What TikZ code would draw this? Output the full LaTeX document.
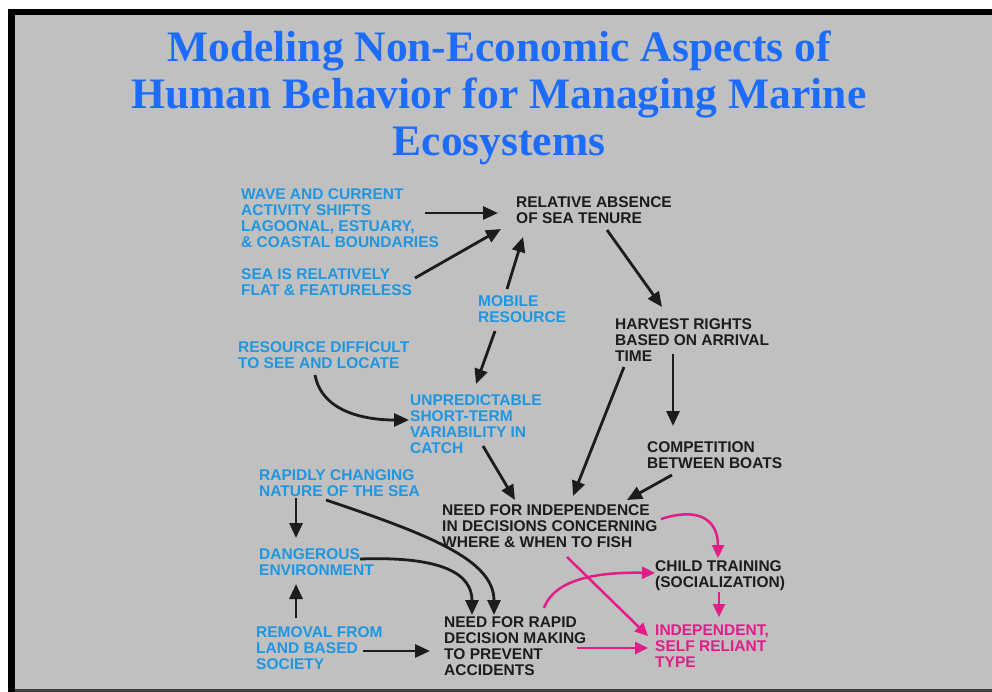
\documentclass[tikz,border=0pt]{standalone}
\usepackage{fontspec}
\setmainfont{Liberation Sans}
\newfontfamily\titlefont{Liberation Serif}
\usetikzlibrary{arrows.meta}
\definecolor{bg}{RGB}{192,192,192}
\definecolor{ttl}{RGB}{30,108,255}
\definecolor{lblue}{RGB}{30,150,225}
\definecolor{dtext}{RGB}{28,28,28}
\definecolor{pk}{RGB}{228,28,135}
\begin{document}
\begin{tikzpicture}[x=1pt,y=-1pt,
 lbl/.style={anchor=north west,inner sep=0pt,align=left,font=\fontsize{15.5}{16}\selectfont\bfseries},
 bl/.style={lbl,text=lblue}, bk/.style={lbl,text=dtext}, pn/.style={lbl,text=pk},
 arr/.style={draw=dtext,line width=2.8pt,-{Triangle[length=15pt,width=13pt]}},
 parr/.style={draw=pk,line width=2.5pt,-{Triangle[length=13pt,width=12pt]}}]
\useasboundingbox (0,0) rectangle (992,692);
\fill[white] (0,0) rectangle (1000,700);
\fill[black] (8,9) rectangle (1000,700);
\fill[bg] (15,15) rectangle (1000,689);
\fill[black!75] (15,689) rectangle (1000,700);

\node[font=\titlefont\bfseries\fontsize{43.5}{47}\selectfont, text=ttl, align=center, anchor=north, inner sep=0pt] (title) at (499,31)
 {Modeling Non-Economic Aspects of\\Human Behavior for Managing Marine\\Ecosystems};

\node[bl] (wave) at (241,188) {WAVE AND CURRENT\\ACTIVITY SHIFTS\\LAGOONAL, ESTUARY,\\\& COASTAL BOUNDARIES};
\node[bl] (flat) at (241,268) {SEA IS RELATIVELY\\FLAT \& FEATURELESS};
\node[bk] (tenure) at (516,196) {RELATIVE ABSENCE\\OF SEA TENURE};
\node[bl] (mobile) at (478,295) {MOBILE\\RESOURCE};
\node[bl] (difficult) at (238,341) {RESOURCE DIFFICULT\\TO SEE AND LOCATE};
\node[bk] (harvest) at (615,318) {HARVEST RIGHTS\\BASED ON ARRIVAL\\TIME};
\node[bl] (unpred) at (410,394) {UNPREDICTABLE\\SHORT-TERM\\VARIABILITY IN\\CATCH};
\node[bk] (compet) at (647,441) {COMPETITION\\BETWEEN BOATS};
\node[bl] (rapidly) at (259,469) {RAPIDLY CHANGING\\NATURE OF THE SEA};
\node[bk] (indep) at (442,504) {NEED FOR INDEPENDENCE\\IN DECISIONS CONCERNING\\WHERE \& WHEN TO FISH};
\node[bl] (danger) at (259,548) {DANGEROUS\\ENVIRONMENT};
\node[bk] (child) at (655,560) {CHILD TRAINING\\(SOCIALIZATION)};
\node[bl] (removal) at (256,626) {REMOVAL FROM\\LAND BASED\\SOCIETY};
\node[bk] (rapid) at (444,616) {NEED FOR RAPID\\DECISION MAKING\\TO PREVENT\\ACCIDENTS};
\node[pn] (selfrel) at (655,625) {INDEPENDENT,\\SELF RELIANT\\TYPE};

% connector end points
\coordinate (waveO) at (425,213);   \coordinate (tenA) at (498,213);
\coordinate (flatO) at (415,278);   \coordinate (tenB) at (501,229);
\coordinate (mobU) at (507,289);    \coordinate (tenC) at (523,237);
\coordinate (tenO) at (607,230);    \coordinate (harI) at (662,307);
\coordinate (mobD) at (495,331);    \coordinate (unpI) at (476,384);
\coordinate (difO) at (315,375);    \coordinate (unpL) at (409,420);
\coordinate (unpO) at (483,446);    \coordinate (indA) at (515,500);
\coordinate (harO) at (624,367);    \coordinate (indB) at (573,496);
\coordinate (harD) at (673,354);    \coordinate (comI) at (673,426);
\coordinate (comO) at (672,475);    \coordinate (indC) at (627,500);
\coordinate (rapD) at (296,498);    \coordinate (danT) at (296,538);
\coordinate (remU) at (296,618);    \coordinate (danB) at (296,584);
\coordinate (remO) at (363,651);    \coordinate (rpdL) at (430,651);
\coordinate (danO) at (360,559);    \coordinate (rpdA) at (472,615);
\coordinate (rapO) at (326,500);    \coordinate (rpdB) at (494,615);
\coordinate (indO) at (661,519);    \coordinate (chiT) at (718,558);
\coordinate (indD) at (567,557);    \coordinate (selA) at (648,636);
\coordinate (rpdU) at (544,608);    \coordinate (chiL) at (655,573);
\coordinate (chiD) at (719,592);    \coordinate (selT) at (719,617);
\coordinate (rpdR) at (577,648);    \coordinate (selL) at (648,648);

\draw[arr] (waveO) -- (tenA);
\draw[arr] (flatO) -- (tenB);
\draw[arr] (mobU) -- (tenC);
\draw[arr] (tenO) -- (harI);
\draw[arr] (mobD) -- (unpI);
\draw[arr] (difO) .. controls (322,412) and (365,420) .. (unpL);
\draw[arr] (unpO) -- (indA);
\draw[arr] (harO) -- (indB);
\draw[arr] (harD) -- (comI);
\draw[arr] (comO) -- (indC);
\draw[arr] (rapD) -- (danT);
\draw[arr] (remU) -- (danB);
\draw[arr] (remO) -- (rpdL);
\draw[arr] (danO) .. controls (445,556) and (472,575) .. (rpdA);
\draw[arr] (rapO) .. controls (430,535) and (494,560) .. (rpdB);

\draw[parr] (indO) .. controls (705,505) and (718,525) .. (chiT);
\draw[parr] (indD) -- (selA);
\draw[parr] (rpdU) .. controls (555,578) and (600,572) .. (chiL);
\draw[parr] (chiD) -- (selT);
\draw[parr] (rpdR) -- (selL);
\end{tikzpicture}
\end{document}
